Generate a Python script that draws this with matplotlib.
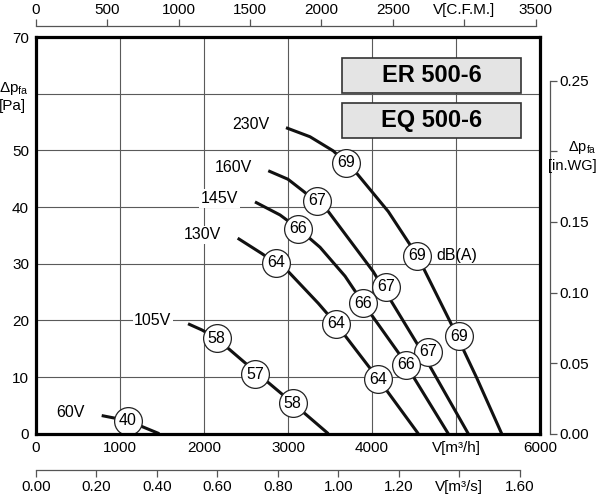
import matplotlib.pyplot as plt
from matplotlib.patches import Rectangle

plt.rcParams['font.family'] = ['Liberation Sans', 'DejaVu Sans']
plt.rcParams['mathtext.fontset'] = 'custom'
plt.rcParams['mathtext.rm'] = 'Liberation Sans'

# fan curves: flow V [m3/h] vs static pressure dp_fa [Pa]
flow_230 = [2976, 3262, 3539, 3818, 4194, 4539, 4929, 5242, 5544]
pres_230 = [54.0, 52.4, 49.9, 45.95, 39.2, 31.4, 19.8, 10.0, 0.0]
flow_160 = [2765, 3000, 3182, 3480, 4015, 4532, 5146]
pres_160 = [46.4, 44.9, 42.8, 39.2, 28.6, 16.0, 0.0]
flow_145 = [2607, 2905, 3123, 3381, 3679, 3887, 4333, 4908]
pres_145 = [40.9, 38.6, 36.2, 32.9, 27.8, 23.2, 13.9, 0.0]
flow_130 = [2401, 2687, 3004, 3361, 3571, 4075, 4551]
pres_130 = [34.5, 31.8, 28.6, 23.0, 19.4, 9.65, 0.0]
flow_105 = [1810, 1976, 2151, 2607, 3056, 3480]
pres_105 = [19.4, 18.3, 16.8, 11.0, 5.4, 0.0]
flow_60 = [782, 1092, 1468]
pres_60 = [3.2, 2.3, 0.0]

curve_names = ['230V', '160V', '145V', '130V', '105V', '60V']
curve_flows = [flow_230, flow_160, flow_145, flow_130, flow_105, flow_60]
curve_pres = [pres_230, pres_160, pres_145, pres_130, pres_105, pres_60]

# noise level markers, dB(A)
noise_flow = [3690, 4539, 5039, 3349, 4167, 4663, 3123, 3889, 4405,
              2854, 3575, 4075, 2151, 2607, 3056, 1092]
noise_pres = [47.8, 31.4, 17.2, 41.1, 25.9, 14.5, 36.2, 23.0, 12.2,
              30.2, 19.4, 9.65, 16.8, 10.5, 5.4, 2.3]
noise_db = [69, 69, 69, 67, 67, 67, 66, 66, 66, 64, 64, 64, 58, 57, 58, 40]

models = ['ER 500-6', 'EQ 500-6']

x_ticks = [0, 1000, 2000, 3000, 4000, 5000, 6000]
x_labels = ['0', '1000', '2000', '3000', '4000', 'V[m³/h]', '6000']
y_ticks = [0, 10, 20, 30, 40, 50, 60, 70]
y_labels = ['0', '10', '20', '30', '40', '50', 'Δp$_\\mathregular{fa}$\n[Pa]', '70']
cfm_ticks = [0, 500, 1000, 1500, 2000, 2500, 3000, 3500]
cfm_labels = ['0', '500', '1000', '1500', '2000', '2500', 'V[C.F.M.]', '3500']
m3s_ticks = [0.0, 0.2, 0.4, 0.6, 0.8, 1.0, 1.2, 1.4, 1.6]
m3s_labels = ['0.00', '0.20', '0.40', '0.60', '0.80', '1.00', '1.20', 'V[m³/s]', '1.60']
wg_ticks = [0.0, 0.05, 0.10, 0.15, 0.20, 0.25]
wg_labels = ['0.00', '0.05', '0.10', '0.15', '', '0.25']

CFM = 1.69901   # m3/h per cfm
WG = 249.089    # Pa per in.WG

fig = plt.figure(figsize=(6, 5), dpi=100)
ax = fig.add_axes([0.06, 0.1326, 0.84, 0.7934])
ax.set_xlim(0, 6000)
ax.set_ylim(0, 70)
ax.set_xticks(x_ticks)
ax.set_xticklabels(x_labels)
ax.set_yticks(y_ticks)
ax.set_yticklabels(y_labels)
ax.get_yticklabels()[6].set_multialignment('left')
ax.tick_params(length=0, labelsize=11, pad=5)
ax.grid(True, color='#5a5a5a', lw=0.8)
ax.set_axisbelow(True)
for s in ax.spines.values():
    s.set_linewidth(2.3)
    s.set_zorder(6)

for name, fl, pr in zip(curve_names, curve_flows, curve_pres):
    ax.plot(fl, pr, color='#111111', lw=2.2, solid_capstyle='butt',
            solid_joinstyle='round', zorder=3)
    ax.annotate(name, (fl[0], pr[0]), xytext=(-12, 2.5), textcoords='offset points',
                ha='right', va='center', fontsize=11.5, zorder=5,
                bbox=dict(boxstyle='square,pad=0.1', fc='white', ec='none'))

ax.plot(noise_flow, noise_pres, 'o', ms=20, mfc='white', mec='#222222', mew=0.9, zorder=4)
for fl, pr, db in zip(noise_flow, noise_pres, noise_db):
    ax.text(fl, pr, str(db), ha='center', va='center', fontsize=11.5, zorder=5)
ax.annotate('dB(A)', (noise_flow[1], noise_pres[1]), xytext=(14, 0),
            textcoords='offset points', ha='left', va='center', fontsize=11.5, zorder=5)

# model name boxes
for i, m in enumerate(models):
    y0 = 0.859 - i * 0.114
    ax.add_patch(Rectangle((0.607, y0), 0.355, 0.088, transform=ax.transAxes,
                           fc='#e4e4e4', ec='#333333', lw=1.2, zorder=4))
    ax.text(0.7845, y0 + 0.044, m, transform=ax.transAxes, ha='center', va='center',
            fontsize=17, fontweight='bold', zorder=5)

# top axis: C.F.M.
ax_t = ax.twiny()
ax_t.set_xlim(0, 6000 / CFM)
ax_t.set_xticks(cfm_ticks)
ax_t.set_xticklabels(cfm_labels)
for k in ['left', 'right', 'bottom']:
    ax_t.spines[k].set_visible(False)
ax_t.spines['top'].set_position(('axes', 1.0285))
ax_t.spines['top'].set_bounds(0, 3500)
ax_t.spines['top'].set_color('#555555')
ax_t.spines['top'].set_linewidth(0.9)
ax_t.tick_params(length=5, width=0.9, color='#555555', labelsize=11, pad=1.5)

# bottom axis: m3/s
ax_b = ax.twiny()
ax_b.set_xlim(0, 6000 / 3600)
ax_b.xaxis.tick_bottom()
ax_b.set_xticks(m3s_ticks)
ax_b.set_xticklabels(m3s_labels)
for k in ['left', 'right', 'top']:
    ax_b.spines[k].set_visible(False)
ax_b.spines['bottom'].set_visible(True)
ax_b.spines['bottom'].set_position(('axes', -0.0915))
ax_b.spines['bottom'].set_bounds(0, 1.6)
ax_b.spines['bottom'].set_color('#555555')
ax_b.spines['bottom'].set_linewidth(0.9)
ax_b.tick_params(length=5, width=0.9, color='#555555', labelsize=11, pad=2)

# right axis: in.WG
ax_r = ax.twinx()
ax_r.set_ylim(0, 70 / WG)
ax_r.set_yticks(wg_ticks)
ax_r.set_yticklabels(wg_labels)
for k in ['left', 'top', 'bottom']:
    ax_r.spines[k].set_visible(False)
ax_r.spines['right'].set_position(('axes', 1.0198))
ax_r.spines['right'].set_bounds(0, 0.25)
ax_r.spines['right'].set_color('#555555')
ax_r.spines['right'].set_linewidth(0.9)
ax_r.tick_params(length=5, width=0.9, color='#555555', labelsize=11, pad=2)
ax_r.text(1.113, 0.70, 'Δp$_\\mathregular{fa}$\n[in.WG]', transform=ax.transAxes, ha='right',
          va='center', multialignment='right', fontsize=10.5)

fig.savefig('out.png', dpi=100)
